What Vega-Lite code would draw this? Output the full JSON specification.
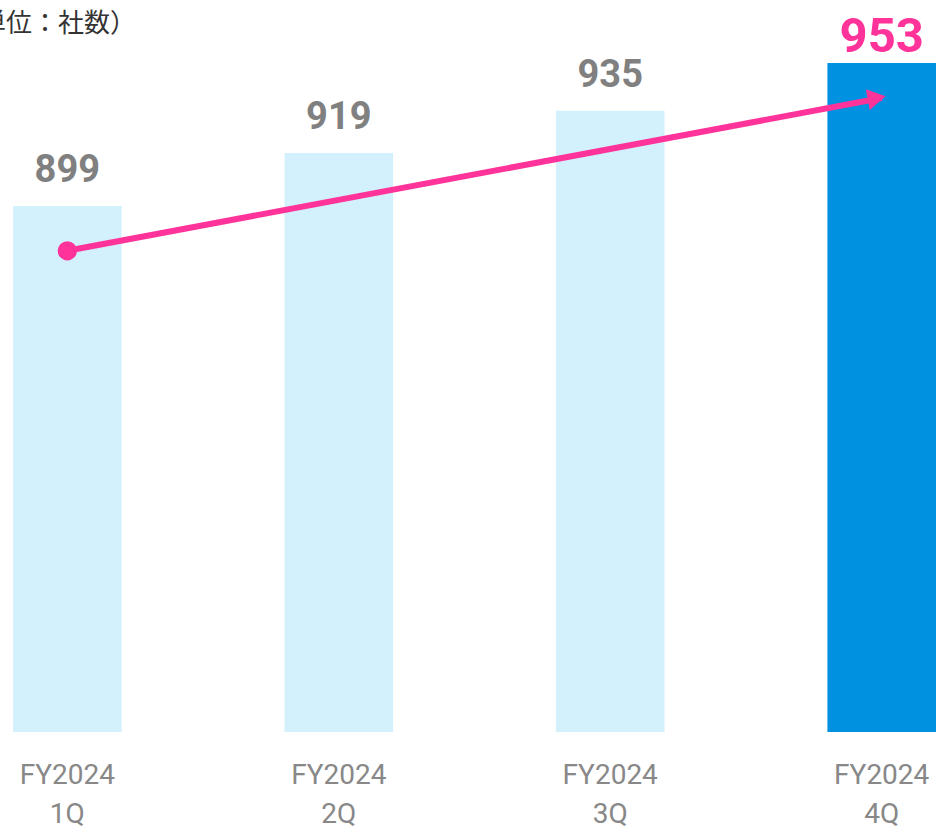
{
  "$schema": "https://vega.github.io/schema/vega-lite/v6.json",
  "width": 936,
  "height": 692,
  "padding": {"top": 40, "left": 0, "right": 0, "bottom": 94},
  "autosize": {"type": "none"},
  "background": "white",
  "config": {"view": {"stroke": null}},
  "title": {
    "text": "（単位：社数）",
    "anchor": "start",
    "frame": "group",
    "font": "Noto Sans CJK JP",
    "fontSize": 26,
    "fontWeight": "normal",
    "color": "#333333",
    "dx": -46,
    "offset": -50,
    "baseline": "bottom"
  },
  "datasets": {
    "bars": [
      {"q": "FY2024 1Q", "count": 899, "hl": false},
      {"q": "FY2024 2Q", "count": 919, "hl": false},
      {"q": "FY2024 3Q", "count": 935, "hl": false},
      {"q": "FY2024 4Q", "count": 953, "hl": true}
    ],
    "arrow": [
      {"q": "FY2024 1Q", "v": 882.1, "end": false},
      {"q": "FY2024 4Q", "v": 939.8, "end": true}
    ]
  },
  "encoding": {
    "x": {
      "field": "q",
      "type": "nominal",
      "sort": null,
      "scale": {"paddingInner": 0.6, "paddingOuter": 0.024, "align": 1},
      "axis": {
        "title": null,
        "domain": false,
        "ticks": false,
        "labelAngle": 0,
        "labelFont": "Roboto",
        "labelFontSize": 28,
        "labelColor": "#888888",
        "labelPadding": 29,
        "labelLineHeight": 39,
        "labelBaseline": "top",
        "labelExpr": "split(datum.label, ' ')"
      }
    }
  },
  "layer": [
    {
      "data": {"name": "bars"},
      "mark": {"type": "bar"},
      "encoding": {
        "y": {
          "field": "count",
          "type": "quantitative",
          "scale": {"domain": [700.4, 961.7], "zero": false, "nice": false},
          "axis": null
        },
        "y2": {"datum": 700.4},
        "color": {
          "field": "hl",
          "type": "nominal",
          "scale": {"domain": [false, true], "range": ["#D3F1FC", "#0091E1"]},
          "legend": null
        }
      }
    },
    {
      "data": {"name": "bars"},
      "transform": [{"filter": "!datum.hl"}],
      "mark": {"type": "text", "font": "Roboto", "fontSize": 38, "fontWeight": "bold", "color": "#808080", "baseline": "alphabetic", "dy": -24},
      "encoding": {
        "y": {"field": "count", "type": "quantitative"},
        "text": {"field": "count", "type": "quantitative"}
      }
    },
    {
      "data": {"name": "bars"},
      "transform": [{"filter": "datum.hl"}],
      "mark": {"type": "text", "font": "Roboto", "fontSize": 49, "fontWeight": "bold", "color": "#FF3399", "baseline": "alphabetic", "dy": -11},
      "encoding": {
        "y": {"field": "count", "type": "quantitative"},
        "text": {"field": "count", "type": "quantitative"}
      }
    },
    {
      "data": {"name": "arrow"},
      "mark": {"type": "line", "color": "#FF3399", "strokeWidth": 6, "strokeCap": "butt"},
      "encoding": {
        "y": {"field": "v", "type": "quantitative"}
      }
    },
    {
      "data": {"name": "arrow"},
      "transform": [{"filter": "!datum.end"}],
      "mark": {"type": "point", "shape": "circle", "filled": true, "opacity": 1, "color": "#FF3399", "size": 370},
      "encoding": {
        "y": {"field": "v", "type": "quantitative"}
      }
    },
    {
      "data": {"name": "arrow"},
      "transform": [{"filter": "datum.end"}],
      "mark": {"type": "point", "shape": "triangle-right", "filled": true, "opacity": 1, "color": "#FF3399", "size": 440, "angle": 349.4, "xOffset": -5},
      "encoding": {
        "y": {"field": "v", "type": "quantitative"}
      }
    }
  ]
}
